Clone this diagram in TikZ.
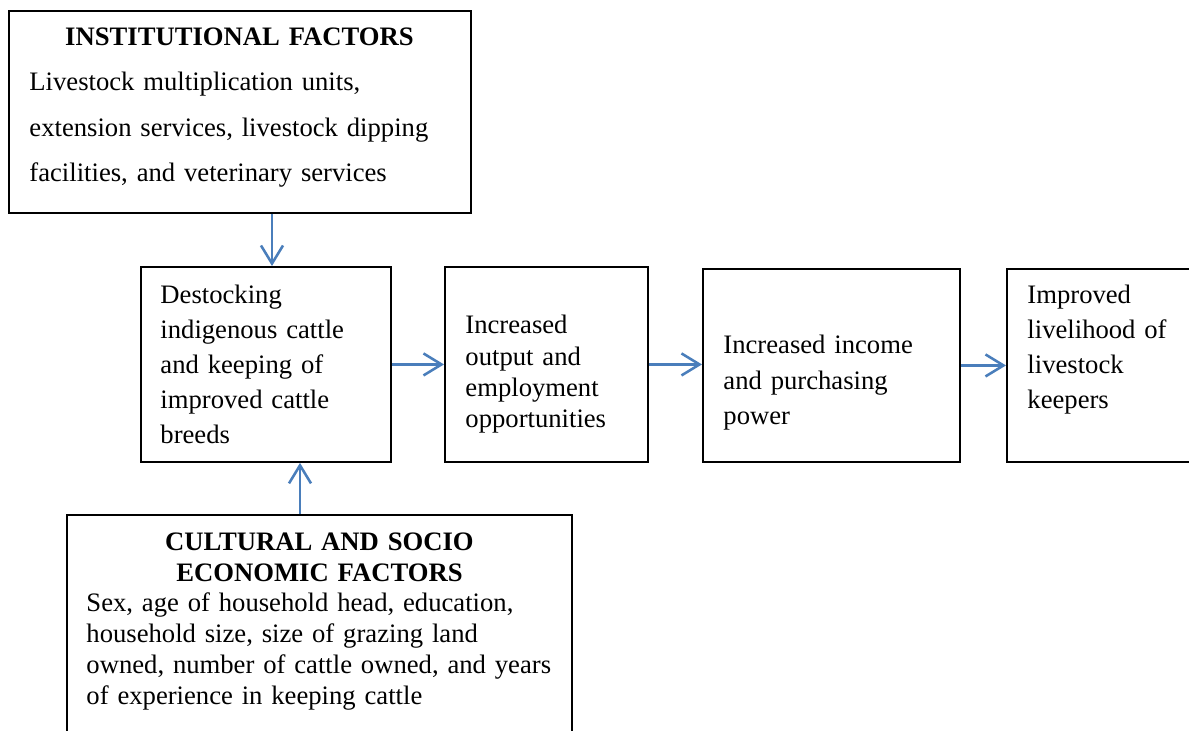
\documentclass[tikz,border=0pt]{standalone}
\usepackage{fontspec}
\setmainfont{Liberation Serif}
\usetikzlibrary{arrows.meta}
\definecolor{arrowblue}{HTML}{4A7EBB}
\setlength{\parindent}{0pt}
\newcommand{\pxu}{0.4316pt}

\begin{document}
\begin{tikzpicture}[x=0.4316pt, y=-0.4316pt,
  box/.style={draw, line width=0.8pt, rectangle, anchor=north west, inner sep=0pt},
  txt/.style={anchor=north west, inner sep=0pt, align=left},
  arr/.style={draw=arrowblue, line width=1.1pt, -{Straight Barb[length=7.8pt,width=9.5pt]}}]
\clip (0,0) rectangle (1189,730);

% boxes
\node[box, minimum width=462*\pxu, minimum height=202*\pxu] (inst) at (8,10) {};
\node[box, minimum width=250*\pxu, minimum height=195*\pxu] (dest) at (140,266) {};
\node[box, minimum width=203*\pxu, minimum height=195*\pxu] (output) at (444,266) {};
\node[box, minimum width=257*\pxu, minimum height=193*\pxu] (income) at (702,268) {};
\node[box, minimum width=250*\pxu, minimum height=193*\pxu] (improved) at (1006,268) {};
\node[box, minimum width=505*\pxu, minimum height=250*\pxu] (socio) at (66,514) {};

% texts
\node[txt, text width=420*\pxu, font=\fontsize{11.5}{19.6}\selectfont] (insttxt) at (29,27.4)
  {{\centering\bfseries INSTITUTIONAL FACTORS\par}Livestock multiplication units,\\ extension services, livestock dipping\\ facilities, and veterinary services};
\node[txt, text width=220*\pxu, font=\fontsize{11.5}{15.1}\selectfont] (desttxt) at (160,284.8)
  {Destocking\\ indigenous cattle\\ and keeping of\\ improved cattle\\ breeds};
\node[txt, text width=170*\pxu, font=\fontsize{11.5}{13.5}\selectfont] (outputtxt) at (465,314.8)
  {Increased\\ output and\\ employment\\ opportunities};
\node[txt, text width=225*\pxu, font=\fontsize{11.5}{15.3}\selectfont] (incometxt) at (723,334.8)
  {Increased income\\ and purchasing\\ power};
\node[txt, text width=160*\pxu, font=\fontsize{11.5}{15.1}\selectfont] (improvedtxt) at (1027,284.8)
  {Improved\\ livelihood of\\ livestock\\ keepers};
\node[txt, text width=466*\pxu, font=\fontsize{11.5}{13.25}\selectfont] (sociotxt) at (86,532.4)
  {{\centering\bfseries CULTURAL AND SOCIO\\ ECONOMIC FACTORS\par}Sex, age of household head, education,\\ household size, size of grazing land\\ owned, number of cattle owned, and years\\ of experience in keeping cattle};

% arrows
\draw[arr] (272,0 |- inst.south) -- (272,0 |- dest.north);
\draw[arr] (300,0 |- socio.north) -- (300,0 |- dest.south);
\draw[arr] (dest.east) -- (output.west);
\draw[arr] (output.east) -- (output.east -| income.west);
\draw[arr] (income.east) -- (income.east -| improved.west);
\end{tikzpicture}
\end{document}
